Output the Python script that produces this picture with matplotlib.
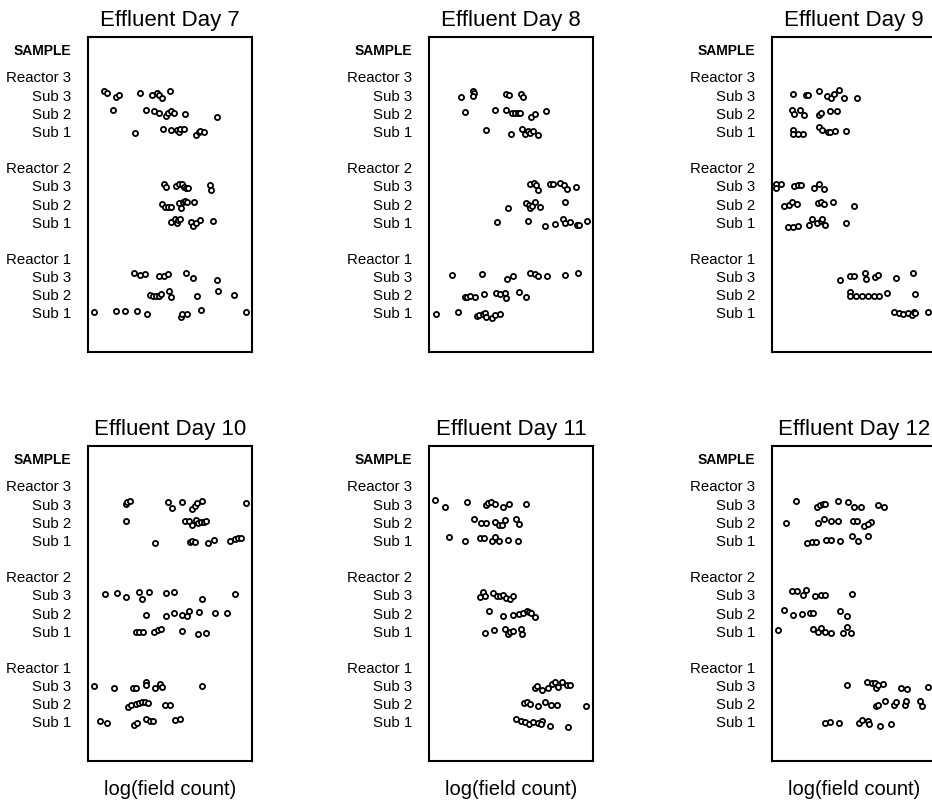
import matplotlib
matplotlib.use("Agg")
import matplotlib.pyplot as plt

plt.rcParams['font.family'] = ['Liberation Sans', 'DejaVu Sans']

days = ["Effluent Day 7", "Effluent Day 8", "Effluent Day 9",
        "Effluent Day 10", "Effluent Day 11", "Effluent Day 12"]
reactors = ["Reactor 3", "Reactor 2", "Reactor 1"]
subs = ["Sub 3", "Sub 2", "Sub 1"]
x_label = "log(field count)"

# rows (top to bottom): R3 Sub3, R3 Sub2, R3 Sub1, R2 Sub3, R2 Sub2, R2 Sub1, R1 Sub3, R1 Sub2, R1 Sub1
day7_x = [
    [1.0, 1.16, 1.71, 1.89, 3.17, 3.88, 4.21, 4.35, 4.49, 5.02],
    [1.54, 3.52, 4.0, 4.35, 4.78, 4.9, 5.04, 5.22, 5.91, 7.85],
    [2.85, 4.59, 5.08, 5.41, 5.53, 5.61, 5.87, 6.6, 6.75, 6.85, 7.07],
    [4.61, 4.74, 5.37, 5.55, 5.73, 5.85, 5.95, 6.08, 7.42, 7.52],
    [4.49, 4.7, 4.9, 5.06, 5.57, 5.69, 5.77, 5.93, 6.06, 6.46],
    [5.04, 5.28, 5.41, 5.49, 5.61, 6.26, 6.42, 6.59, 6.83, 7.6],
    [2.8, 3.19, 3.46, 4.33, 4.63, 4.88, 6.0, 6.42, 7.85],
    [3.8, 3.96, 4.15, 4.33, 4.45, 4.94, 5.06, 6.63, 7.93, 8.92],
    [0.39, 1.73, 2.26, 2.97, 3.58, 5.67, 5.75, 6.06, 6.89, 9.61],
]
day7_dy = [
    [0.2, 0.13, -0.1, 0.0, 0.13, 0.0, 0.1, 0.0, -0.15, 0.2],
    [0.18, 0.18, 0.1, 0.0, -0.15, 0.0, 0.15, 0.0, -0.05, -0.18],
    [-0.1, 0.15, 0.07, 0.1, -0.05, 0.13, 0.15, -0.2, -0.05, 0.04, -0.04],
    [0.13, -0.05, 0.0, 0.1, 0.13, -0.04, -0.13, -0.13, 0.05, -0.22],
    [0.0, -0.16, -0.15, -0.16, 0.07, -0.2, 0.09, 0.16, 0.13, 0.11],
    [0.0, 0.15, -0.07, 0.13, 0.16, 0.0, -0.2, -0.05, 0.1, 0.09],
    [0.2, 0.1, 0.13, 0.05, 0.04, 0.13, 0.22, -0.05, -0.16],
    [0.0, -0.07, -0.09, -0.04, 0.05, 0.22, -0.1, -0.04, 0.2, 0.0],
    [0.05, 0.13, 0.13, 0.09, -0.05, -0.24, -0.05, -0.05, 0.15, 0.05],
]

day8_x = [
    [1.93, 2.7, 2.74, 2.7, 4.67, 4.88, 5.61, 5.73],
    [2.22, 4.0, 4.72, 5.04, 5.24, 5.41, 5.57, 6.24, 6.48, 7.13],
    [3.46, 4.98, 5.65, 5.83, 6.02, 6.18, 6.34, 6.63],
    [6.18, 6.4, 6.52, 6.65, 7.4, 7.56, 8.0, 8.25, 8.43, 8.98],
    [4.8, 5.91, 6.08, 6.18, 6.3, 6.44, 6.75, 8.27],
    [4.17, 6.04, 7.07, 7.68, 8.15, 8.29, 8.58, 9.05, 9.17, 9.61],
    [1.42, 3.21, 4.78, 5.14, 6.14, 6.44, 6.65, 7.22, 8.29, 9.11],
    [2.2, 2.32, 2.48, 2.78, 3.35, 4.09, 4.33, 4.63, 4.72, 5.49, 5.91],
    [0.43, 1.79, 2.91, 3.07, 3.27, 3.43, 3.5, 3.86, 4.04, 4.35],
]
day8_dy = [
    [-0.1, 0.24, 0.1, -0.07, 0.07, 0.0, 0.05, -0.1],
    [0.07, 0.2, 0.16, 0.04, 0.04, 0.04, 0.04, -0.18, -0.05, 0.15],
    [0.09, -0.15, 0.15, -0.13, 0.04, -0.09, 0.0, -0.22],
    [0.09, 0.16, 0.04, -0.24, 0.11, 0.13, 0.16, 0.04, -0.15, -0.04],
    [-0.2, 0.04, -0.04, -0.22, -0.1, 0.13, -0.15, 0.13],
    [0.0, 0.04, -0.22, -0.1, 0.16, -0.04, 0.02, -0.18, -0.16, 0.04],
    [0.1, 0.13, -0.15, 0.02, 0.2, 0.13, 0.04, 0.05, 0.11, 0.18],
    [-0.1, -0.1, -0.09, -0.13, 0.05, 0.09, 0.04, 0.09, -0.15, 0.16, -0.13],
    [-0.05, 0.04, -0.15, -0.11, -0.07, 0.02, -0.22, -0.25, -0.13, -0.05],
]

day9_x = [
    [1.26, 2.07, 2.2, 2.85, 3.37, 3.62, 3.78, 4.07, 4.39, 5.18],
    [1.22, 1.34, 1.73, 1.93, 2.85, 2.99, 3.52, 3.96],
    [1.26, 1.26, 1.59, 1.91, 2.85, 3.05, 3.39, 3.56, 3.86, 4.51],
    [0.22, 0.26, 0.57, 1.36, 1.57, 1.79, 2.58, 2.87, 3.19],
    [0.71, 1.02, 1.22, 1.52, 2.78, 3.0, 3.15, 3.72, 4.98],
    [0.95, 1.26, 1.59, 2.28, 2.44, 2.74, 2.97, 3.05, 3.25, 4.51],
    [4.15, 4.74, 5.0, 5.69, 5.71, 6.28, 6.44, 7.56, 8.6],
    [4.74, 4.78, 5.14, 5.49, 5.83, 6.2, 6.5, 7.01, 8.72],
    [7.42, 7.72, 7.99, 8.29, 8.52, 8.64, 8.72, 9.53],
]
day9_dy = [
    [0.05, 0.0, 0.0, 0.2, -0.07, -0.15, 0.04, 0.3, -0.15, -0.16],
    [0.18, -0.04, 0.18, -0.09, -0.09, 0.0, 0.13, 0.13],
    [0.07, -0.15, -0.15, -0.15, 0.22, 0.09, -0.04, -0.04, 0.0, 0.0],
    [0.13, -0.11, 0.13, 0.0, 0.04, 0.04, -0.11, 0.13, -0.18],
    [-0.11, -0.04, 0.11, -0.02, 0.05, 0.11, 0.0, 0.13, -0.11],
    [-0.24, -0.24, -0.22, -0.13, 0.15, -0.04, 0.09, 0.16, -0.13, -0.02],
    [-0.16, 0.05, 0.04, 0.18, -0.11, 0.0, 0.07, -0.09, 0.18],
    [0.13, -0.05, -0.05, -0.04, -0.04, -0.04, -0.07, 0.11, 0.02],
    [0.04, 0.0, -0.05, 0.02, -0.09, 0.05, -0.02, 0.04],
]

day10_x = [
    [2.33, 2.39, 2.54, 4.87, 5.15, 5.72, 6.35, 6.51, 6.67, 6.98, 9.66],
    [2.33, 5.94, 6.15, 6.35, 6.61, 6.71, 6.9, 7.06, 7.2],
    [4.1, 6.23, 6.37, 6.51, 7.3, 7.67, 8.68, 8.95, 9.13, 9.33],
    [1.03, 1.76, 2.31, 3.12, 3.31, 3.73, 4.73, 5.23, 6.94, 8.97],
    [3.55, 4.75, 5.23, 5.74, 6.04, 6.17, 6.77, 7.73, 8.48],
    [2.94, 3.14, 3.35, 4.02, 4.26, 4.44, 5.74, 6.73, 7.2],
    [0.39, 1.58, 2.76, 2.92, 3.51, 3.53, 4.08, 4.36, 4.52, 6.94],
    [2.45, 2.62, 2.9, 3.08, 3.29, 3.45, 3.67, 4.69, 5.03],
    [0.75, 1.16, 2.8, 2.96, 3.55, 3.75, 3.94, 5.29, 5.58],
]
day10_dy = [
    [0.0, 0.11, 0.15, 0.09, -0.24, 0.09, -0.27, -0.11, 0.04, 0.15, 0.04],
    [0.09, 0.07, 0.07, -0.15, 0.11, -0.02, 0.04, 0.04, 0.07],
    [-0.13, -0.09, -0.05, -0.07, -0.16, 0.02, -0.02, 0.07, 0.15, 0.16],
    [0.05, 0.13, -0.09, 0.15, -0.2, 0.15, 0.13, 0.15, -0.24, 0.04],
    [-0.13, -0.16, 0.0, -0.09, -0.15, 0.11, 0.07, 0.0, 0.0],
    [-0.07, -0.05, -0.02, -0.04, 0.07, 0.11, 0.0, -0.15, -0.11],
    [-0.04, -0.15, -0.11, -0.13, 0.2, 0.02, -0.15, 0.11, -0.05, 0.0],
    [-0.2, -0.07, -0.02, 0.02, 0.11, 0.11, 0.02, -0.07, -0.04],
    [0.04, -0.04, -0.16, -0.07, 0.15, 0.04, 0.04, 0.13, 0.15],
]

day11_x = [
    [0.39, 1.0, 2.34, 3.5, 3.62, 3.76, 4.05, 4.51, 4.88, 5.91],
    [2.72, 3.17, 3.5, 4.05, 4.29, 4.45, 4.61, 5.3, 5.47],
    [1.22, 2.22, 3.11, 3.33, 3.82, 4.02, 4.25, 4.8, 5.45],
    [3.13, 3.27, 3.39, 3.92, 4.15, 4.33, 4.51, 4.72, 4.94, 5.14],
    [3.66, 4.51, 5.12, 5.49, 5.75, 5.95, 6.1, 6.2, 6.48],
    [3.41, 3.98, 4.63, 4.82, 4.96, 5.12, 5.61, 5.67],
    [6.44, 6.59, 6.9, 7.28, 7.5, 7.66, 7.89, 8.13, 8.43, 8.62],
    [5.81, 5.95, 6.14, 6.65, 7.07, 7.46, 7.8, 9.57],
    [5.33, 5.63, 5.85, 6.1, 6.34, 6.67, 6.87, 6.85, 7.38, 8.5],
]
day11_dy = [
    [0.2, -0.18, 0.13, -0.04, 0.04, 0.09, 0.02, -0.18, -0.02, -0.02],
    [0.16, -0.05, -0.02, 0.02, -0.16, -0.15, 0.13, 0.2, -0.07],
    [0.18, -0.02, 0.15, 0.11, -0.04, 0.18, -0.05, 0.02, -0.04],
    [-0.11, 0.18, -0.07, 0.13, -0.07, -0.05, 0.0, -0.15, -0.22, -0.05],
    [0.11, -0.18, -0.09, -0.05, 0.0, 0.11, 0.05, -0.02, -0.22],
    [-0.09, 0.09, 0.13, -0.16, -0.02, 0.02, 0.13, -0.16],
    [-0.11, -0.04, -0.22, -0.15, 0.09, 0.22, -0.09, 0.22, 0.05, 0.04],
    [0.04, 0.11, 0.0, -0.11, 0.11, -0.04, -0.04, -0.11],
    [0.15, 0.05, -0.02, -0.09, -0.02, -0.05, 0.07, -0.13, -0.22, -0.25],
]

day12_x = [
    [1.46, 2.74, 2.95, 3.13, 3.25, 4.0, 4.63, 4.98, 5.45, 6.46, 6.85],
    [0.83, 2.83, 3.19, 3.58, 4.02, 4.92, 5.2, 5.59, 6.04, 5.87],
    [2.11, 2.42, 2.66, 3.29, 3.62, 4.15, 4.88, 5.24, 5.85],
    [1.24, 1.52, 1.91, 2.09, 2.6, 2.99, 3.21, 4.86],
    [0.71, 1.26, 1.81, 2.32, 2.52, 4.15, 4.59],
    [0.37, 2.5, 2.8, 3.01, 3.25, 3.58, 4.33, 4.57, 4.8],
    [4.57, 5.79, 6.08, 6.26, 6.34, 6.46, 6.77, 7.89, 8.23, 9.51],
    [6.36, 6.48, 6.91, 7.44, 7.58, 8.13, 8.19, 9.0, 9.17],
    [3.23, 3.54, 4.08, 5.3, 5.47, 5.85, 5.93, 6.57, 7.26],
]
day12_dy = [
    [0.18, -0.18, -0.04, 0.0, 0.0, 0.18, 0.09, -0.15, -0.15, -0.07, -0.15],
    [-0.02, -0.04, 0.18, 0.05, 0.05, 0.09, 0.05, -0.18, 0.02, -0.09],
    [-0.15, -0.09, -0.09, 0.05, 0.02, -0.05, 0.24, -0.05, 0.22],
    [0.24, 0.22, 0.0, 0.27, -0.05, -0.02, -0.02, 0.05],
    [0.16, -0.09, -0.05, 0.02, 0.02, 0.13, -0.16],
    [0.09, 0.13, -0.04, 0.16, -0.07, -0.11, -0.09, 0.22, -0.09],
    [0.04, 0.22, 0.13, 0.13, -0.11, 0.05, 0.07, -0.15, -0.18, -0.07],
    [-0.13, -0.09, 0.18, -0.04, 0.09, -0.05, 0.13, 0.16, -0.13],
    [-0.07, 0.02, -0.04, -0.05, 0.09, 0.07, -0.13, -0.22, -0.09],
]

all_x = [day7_x, day8_x, day9_x, day10_x, day11_x, day12_x]
all_dy = [day7_dy, day8_dy, day9_dy, day10_dy, day11_dy, day12_dy]

W, H = 932, 810
fig = plt.figure(figsize=(W / 100, H / 100), dpi=100)

col_left = [88, 429, 772]
row_top = [37, 446]
ax_w, ax_h = 164, 315

# row positions
row_pos = []
tick_pos = [14.5]
tick_lab = ["SAMPLE"]
for ri, rname in enumerate(reactors):
    base = (2 - ri) * 5
    tick_pos.append(base + 3)
    tick_lab.append(rname)
    for si, sname in enumerate(subs):
        y = base + 2 - si
        row_pos.append(y)
        tick_pos.append(y)
        tick_lab.append(sname)

for k in range(6):
    r, c = divmod(k, 3)
    left = col_left[c] / W
    bottom = 1 - (row_top[r] + ax_h) / H
    ax = fig.add_axes([left, bottom, ax_w / W, ax_h / H])
    xs = all_x[k]
    dys = all_dy[k]
    for j in range(9):
        yy = [row_pos[j] + d for d in dys[j]]
        ax.plot(xs[j], yy, linestyle='none', marker='o', markersize=3.7,
                markerfacecolor='white', markeredgecolor='black',
                markeredgewidth=1.3)
    ax.set_xlim(0, 10)
    ax.set_ylim(-2.15, 15.2)
    ax.set_xticks([])
    ax.set_yticks(tick_pos)
    ax.set_yticklabels(tick_lab, fontsize=10.8)
    ax.tick_params(axis='y', length=0, pad=12)
    for t in ax.get_yticklabels():
        if t.get_text() == "SAMPLE":
            t.set_fontweight('bold')
            t.set_fontsize(10)
    for s in ax.spines.values():
        s.set_linewidth(1.5)
    ax.set_title(days[k], fontsize=16, pad=8)
    if r == 1:
        ax.set_xlabel(x_label, fontsize=14.5, labelpad=14)

fig.savefig("out.png", dpi=100)
